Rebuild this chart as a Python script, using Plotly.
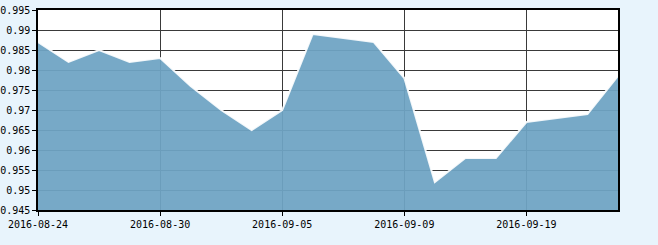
import plotly.graph_objects as go

dates = ["2016-08-24", "2016-08-25", "2016-08-26", "2016-08-29", "2016-08-30",
         "2016-08-31", "2016-09-01", "2016-09-02", "2016-09-05", "2016-09-06",
         "2016-09-07", "2016-09-08", "2016-09-09", "2016-09-12", "2016-09-13",
         "2016-09-14", "2016-09-19", "2016-09-20", "2016-09-21", "2016-09-22"]
values = [0.987, 0.982, 0.985, 0.982, 0.983,
          0.976, 0.970, 0.965, 0.970, 0.989,
          0.988, 0.987, 0.978, 0.952, 0.958,
          0.958, 0.967, 0.968, 0.969, 0.9785]
tick_dates = ["2016-08-24", "2016-08-30", "2016-09-05", "2016-09-09", "2016-09-19"]
y_ticks = [0.945, 0.95, 0.955, 0.96, 0.965, 0.97, 0.975, 0.98, 0.985, 0.99, 0.995]

fig = go.Figure()
fig.add_trace(go.Scatter(
    x=dates, y=values, mode="lines", fill="tozeroy",
    fillcolor="rgba(110,164,195,0.94)",
    line=dict(color="rgba(255,255,255,0.9)", width=2),
    hoverinfo="skip", showlegend=False,
))

font = dict(family="DejaVu Sans Mono", size=10, color="#000000")
fig.update_layout(
    width=658, height=245,
    margin=dict(l=38, r=40, t=10, b=35),
    paper_bgcolor="#E8F4FC",
    plot_bgcolor="#FFFFFF",
    font=font,
    xaxis=dict(
        type="category", range=[0, len(dates) - 1], automargin=False,
        tickmode="array", tickvals=tick_dates, ticktext=tick_dates,
        showgrid=True, gridcolor="#3a3a3a", gridwidth=1,
        showline=True, linecolor="#000000", linewidth=1.5, mirror=True,
        ticks="outside", ticklen=4, tickcolor="#000000",
        tickfont=font, zeroline=False,
    ),
    yaxis=dict(
        range=[0.945, 0.995], automargin=False,
        tickmode="array", tickvals=y_ticks,
        ticktext=[f"{v:g}" for v in y_ticks],
        showgrid=True, gridcolor="#3a3a3a", gridwidth=1,
        showline=True, linecolor="#000000", linewidth=1.5, mirror=True,
        ticks="outside", ticklen=4, tickcolor="#000000",
        tickfont=font, zeroline=False,
    ),
)

fig.write_html("out.html")
